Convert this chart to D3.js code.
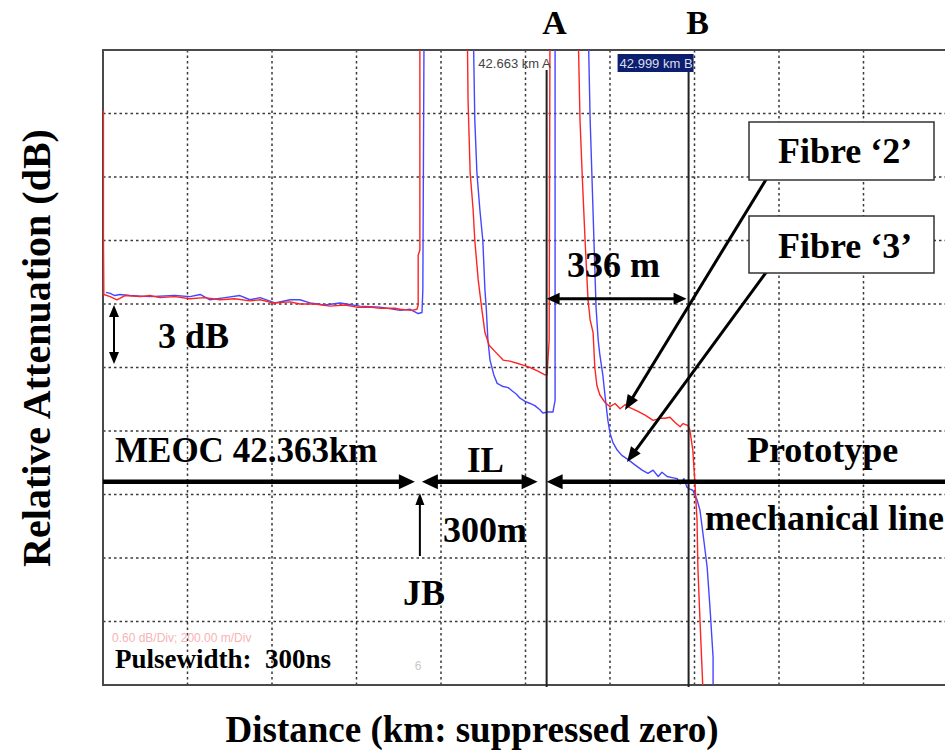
<!DOCTYPE html>
<html>
<head>
<meta charset="utf-8" />
<title>OTDR trace</title>
<style>
  body { margin: 0; background: #fff; }
  .lbl { font-family: "Liberation Serif", "Times New Roman", serif; font-weight: bold; fill: #000; }
  .grid line { stroke: #3a3a3a; stroke-width: 1.5; stroke-dasharray: 2.5 3; }
  .trace { fill: none; stroke-width: 1.4; stroke-linejoin: round; }
</style>
</head>
<body>
<svg width="945" height="754"></svg>
<script src="https://cdn.jsdelivr.net/npm/d3@7"></script>
<script>
// Fibre '2' (red) trace, distance in km and level in dB
const fibre2Km = [41.614, 41.614, 41.615, 41.630, 41.646, 41.665, 41.701, 41.724, 41.748, 41.783,
  41.819, 41.854, 41.890, 41.925, 41.961, 41.985, 42.015, 42.056, 42.079, 42.115,
  42.150, 42.186, 42.214, 42.245, 42.269, 42.304, 42.316, 42.344, 42.356, 42.359,
  42.359, 42.363, 42.363, 42.475, 42.477, 42.482, 42.489, 42.493, 42.501, 42.510,
  42.517, 42.527, 42.541, 42.560, 42.576, 42.593, 42.609, 42.624, 42.640, 42.659,
  42.664, 42.669, 42.671, 42.737, 42.742, 42.747, 42.754, 42.761, 42.766, 42.773,
  42.777, 42.782, 42.789, 42.801, 42.813, 42.825, 42.837, 42.849, 42.860, 42.877,
  42.896, 42.915, 42.931, 42.943, 42.955, 42.967, 42.979, 42.986, 42.998, 43.002,
  43.009, 43.014, 43.019, 43.021, 43.026, 43.033];
const fibre2Db = [5.43, 4.27, 3.69, 3.67, 3.64, 3.68, 3.67, 3.68, 3.66, 3.67,
  3.65, 3.66, 3.64, 3.65, 3.63, 3.64, 3.61, 3.62, 3.60, 3.60,
  3.58, 3.59, 3.57, 3.57, 3.56, 3.56, 3.55, 3.54, 3.55, 3.59,
  4.06, 4.11, 6.3, 6.3, 5.53, 4.84, 4.49, 4.20, 3.83, 3.54,
  3.33, 3.21, 3.15, 3.07, 3.06, 3.04, 3.02, 3.00, 2.97, 2.93,
  2.93, 3.26, 6.3, 6.3, 5.34, 4.84, 4.20, 3.64, 3.45, 3.33,
  3.00, 2.83, 2.74, 2.67, 2.63, 2.66, 2.61, 2.65, 2.62, 2.59,
  2.55, 2.50, 2.52, 2.52, 2.53, 2.48, 2.44, 2.47, 2.45, 2.41,
  2.22, 1.91, 1.56, 1.11, 0.61, -0.05];

// Fibre '3' (blue) trace
const fibre3Km = [41.620, 41.630, 41.641, 41.653, 41.677, 41.724, 41.783, 41.819, 41.843, 41.866,
  41.902, 41.937, 41.961, 41.985, 42.020, 42.056, 42.079, 42.103, 42.138, 42.174,
  42.221, 42.269, 42.316, 42.340, 42.359, 42.368, 42.370, 42.373, 42.489, 42.493,
  42.498, 42.505, 42.512, 42.517, 42.520, 42.524, 42.529, 42.538, 42.546, 42.560,
  42.572, 42.581, 42.591, 42.600, 42.612, 42.624, 42.635, 42.647, 42.654, 42.666,
  42.678, 42.683, 42.683, 42.761, 42.766, 42.770, 42.775, 42.780, 42.785, 42.789,
  42.796, 42.801, 42.808, 42.813, 42.820, 42.830, 42.841, 42.856, 42.872, 42.889,
  42.903, 42.915, 42.927, 42.936, 42.948, 42.960, 42.972, 42.979, 42.988, 42.995,
  43.002, 43.009, 43.019, 43.026, 43.035, 43.043, 43.050, 43.057, 43.057];
const fibre3Db = [3.71, 3.70, 3.68, 3.69, 3.68, 3.67, 3.68, 3.67, 3.69, 3.64,
  3.66, 3.68, 3.64, 3.66, 3.61, 3.64, 3.64, 3.61, 3.59, 3.61,
  3.58, 3.57, 3.54, 3.55, 3.51, 3.52, 3.73, 6.3, 6.3, 5.34,
  4.84, 4.49, 4.20, 3.73, 3.57, 3.26, 3.07, 2.93, 2.85, 2.82,
  2.81, 2.78, 2.75, 2.71, 2.68, 2.66, 2.64, 2.60, 2.57, 2.58,
  2.58, 2.69, 6.3, 6.3, 5.34, 4.84, 4.20, 3.57, 3.26, 3.12,
  2.93, 2.74, 2.50, 2.38, 2.29, 2.22, 2.17, 2.13, 2.08, 2.03,
  2.00, 2.03, 1.97, 2.01, 1.97, 1.96, 1.95, 1.90, 1.95, 1.87,
  1.85, 1.84, 1.75, 1.65, 1.37, 1.11, 0.71, 0.26, -0.05];

// cursors and section boundaries (km)
const cursorA = 42.663, cursorB = 42.999;
const junctionJB = 42.363;
const sectionLevel = 1.92;   // dB level of the section arrows
const spanLevel = 3.64;      // dB level of the 336 m arrow
const kmStart = 41.613, kmPerDiv = 0.2, dbPerDiv = 0.6, divisions = 10;

const svg = d3.select("svg");
const plotLeft = 103, plotTop = 50, plotBottom = 685;
const x = d3.scaleLinear().domain([kmStart, kmStart + kmPerDiv * divisions]).range([plotLeft, 948]);
const y = d3.scaleLinear().domain([0, dbPerDiv * divisions]).range([plotBottom, plotTop]);

// grid
const grid = svg.append("g").attr("class", "grid");
grid.selectAll("line.v")
  .data(d3.range(1, divisions + 1).map(i => kmStart + i * kmPerDiv))
  .join("line").attr("class", "v")
  .attr("x1", d => x(d)).attr("x2", d => x(d)).attr("y1", plotTop).attr("y2", plotBottom);
grid.selectAll("line.h")
  .data(d3.range(1, divisions).map(i => i * dbPerDiv))
  .join("line").attr("class", "h")
  .attr("x1", plotLeft).attr("x2", 945).attr("y1", d => y(d)).attr("y2", d => y(d));

// frame
svg.append("path")
  .attr("d", `M945,${plotTop}H${plotLeft}V${plotBottom}H945`)
  .attr("fill", "none").attr("stroke", "#4a4a4a").attr("stroke-width", 2);

// traces
svg.append("clipPath").attr("id", "clip")
  .append("rect").attr("x", plotLeft).attr("y", plotTop).attr("width", 945 - plotLeft).attr("height", plotBottom - plotTop);

const line = d3.line().x(d => x(d[0])).y(d => y(d[1]));
const traces = svg.append("g").attr("clip-path", "url(#clip)");
traces.append("path").attr("class", "trace").attr("stroke", "#4646ff")
  .attr("d", line(d3.zip(fibre3Km, fibre3Db)));
traces.append("path").attr("class", "trace").attr("stroke", "#ff2424")
  .attr("d", line(d3.zip(fibre2Km, fibre2Db)));

// cursors
[cursorA, cursorB].forEach(c => {
  svg.append("line").attr("x1", x(c)).attr("x2", x(c)).attr("y1", 70).attr("y2", plotBottom + 2)
    .attr("stroke", "#222").attr("stroke-width", 2);
});
svg.append("text").attr("x", x(cursorA) + 4).attr("y", 68).attr("text-anchor", "end")
  .attr("font-family", "Liberation Sans, Arial, sans-serif").attr("font-size", 13).attr("fill", "#444")
  .text(cursorA.toFixed(3) + " km A");
svg.append("rect").attr("x", x(cursorB) - 71).attr("y", 54).attr("width", 76).attr("height", 18).attr("fill", "#0c1f6e");
svg.append("text").attr("x", x(cursorB) + 4).attr("y", 68).attr("text-anchor", "end")
  .attr("font-family", "Liberation Sans, Arial, sans-serif").attr("font-size", 13).attr("fill", "#dde")
  .text(cursorB.toFixed(3) + " km B");

// arrows
function arrow(x1, y1, x2, y2, w, hl, hw, both) {
  const ang = Math.atan2(y2 - y1, x2 - x1);
  const head = (tx, ty, a) => {
    const bx = tx - hl * Math.cos(a), by = ty - hl * Math.sin(a);
    const px = -Math.sin(a) * hw / 2, py = Math.cos(a) * hw / 2;
    svg.append("path").attr("d", `M${tx},${ty}L${bx + px},${by + py}L${bx - px},${by - py}Z`).attr("fill", "#000");
  };
  const sx = both ? x1 + (hl - 2) * Math.cos(ang) : x1, sy = both ? y1 + (hl - 2) * Math.sin(ang) : y1;
  svg.append("line").attr("x1", sx).attr("y1", sy)
    .attr("x2", x2 - (hl - 2) * Math.cos(ang)).attr("y2", y2 - (hl - 2) * Math.sin(ang))
    .attr("stroke", "#000").attr("stroke-width", w);
  head(x2, y2, ang);
  if (both) head(x1, y1, ang + Math.PI);
}
const ys = y(sectionLevel);
arrow(plotLeft, ys, x(junctionJB) - 5, ys, 4.5, 16, 15, false);
arrow(x(junctionJB) + 2, ys, x(cursorA) - 9, ys, 4.5, 16, 15, true);
arrow(945, ys, x(cursorA), ys, 4.5, 16, 15, false);
arrow(x(cursorA), y(spanLevel) - 1, x(cursorB) - 2, y(spanLevel) - 1, 3, 13, 12, true);
arrow(x(junctionJB), 556, x(junctionJB), 493, 2, 12, 9, false);
arrow(114, 305, 114, 364, 2, 12, 10, true);
arrow(770, 173, 625, 410, 3, 15, 12, false);
arrow(770, 267, 627, 462, 3, 15, 12, false);

// fibre label boxes
svg.append("rect").attr("x", 749).attr("y", 122).attr("width", 185).attr("height", 58)
  .attr("fill", "#fff").attr("stroke", "#333").attr("stroke-width", 1.5);
svg.append("rect").attr("x", 749).attr("y", 216).attr("width", 185).attr("height", 57)
  .attr("fill", "#fff").attr("stroke", "#333").attr("stroke-width", 1.5);

// text labels
function label(t, tx, ty, size, anchor) {
  return svg.append("text").attr("class", "lbl").attr("x", tx).attr("y", ty)
    .attr("font-size", size).attr("text-anchor", anchor || "start").style("white-space", "pre").text(t);
}
label("A", x(cursorA) + 8, 34, 34, "middle");
label("B", x(cursorB) + 9, 34, 34, "middle");
label("Fibre \u20182\u2019", 778, 163, 36);
label("Fibre \u20183\u2019", 778, 258, 36);
label("336 m", 567, 277, 36);
label("3 dB", 158, 348, 36);
label("MEOC 42.363km", 115, 462, 35);
label("IL", 467, 472, 35);
label("Prototype", 747, 462, 36);
label("300m", 443, 542, 36);
label("mechanical line", 705, 530, 36);
label("JB", 403, 605, 36);
label("Pulsewidth:  300ns", 115, 668, 27);
label("Distance (km: suppressed zero)", 472, 742, 37, "middle");
label("Relative Attenuation (dB)", 0, 0, 40, "middle").attr("transform", "translate(50,348) rotate(-90)");

svg.append("text").attr("x", 112).attr("y", 642)
  .attr("font-family", "Liberation Sans, Arial, sans-serif").attr("font-size", 12).attr("fill", "#f6b4b4")
  .text(dbPerDiv.toFixed(2) + " dB/Div; " + (kmPerDiv * 1000).toFixed(2) + " m/Div");
svg.append("text").attr("x", 418).attr("y", 670).attr("text-anchor", "middle")
  .attr("font-family", "Liberation Sans, Arial, sans-serif").attr("font-size", 12).attr("fill", "#c8c8c8")
  .text("6");
</script>
</body>
</html>
